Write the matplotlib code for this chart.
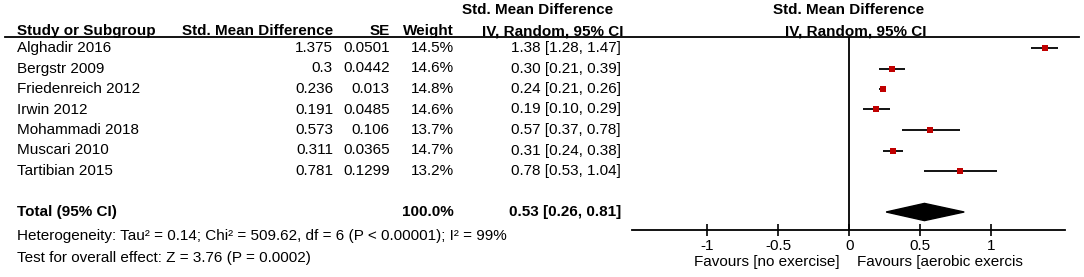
import numpy as np
import matplotlib
matplotlib.use("Agg")
import matplotlib.pyplot as plt
from matplotlib.patches import Polygon

plt.rcParams['font.family'] = ['Liberation Sans', 'DejaVu Sans']
plt.rcParams['font.size'] = 11

studies = ["Alghadir 2016", "Bergstr 2009", "Friedenreich 2012", "Irwin 2012",
           "Mohammadi 2018", "Muscari 2010", "Tartibian 2015"]
smd = [1.375, 0.3, 0.236, 0.191, 0.573, 0.311, 0.781]
se = [0.0501, 0.0442, 0.013, 0.0485, 0.106, 0.0365, 0.1299]
weight = [14.5, 14.6, 14.8, 14.6, 13.7, 14.7, 13.2]
est = [1.38, 0.30, 0.24, 0.19, 0.57, 0.31, 0.78]
lo = [1.28, 0.21, 0.21, 0.10, 0.37, 0.24, 0.53]
hi = [1.47, 0.39, 0.26, 0.29, 0.78, 0.38, 1.04]
total_est, total_lo, total_hi = 0.53, 0.26, 0.81
ticks = [-1, -0.5, 0, 0.5, 1]
tick_labels = ["-1", "-0.5", "0", "0.5", "1"]

W, H = 1084, 277
fig = plt.figure(figsize=(W / 100, H / 100), dpi=100)

# table text in pixel coordinates
ax_t = fig.add_axes([0, 0, 1, 1])
ax_t.set_xlim(0, W)
ax_t.set_ylim(H, 0)
ax_t.axis('off')

def row_y(r):
    return 48 + 20.5 * r

bold = dict(fontweight='bold')
ax_t.text(17, 31, "Study or Subgroup", va='center', ha='left', **bold)
ax_t.text(333, 31, "Std. Mean Difference", va='center', ha='right', **bold)
ax_t.text(390, 31, "SE", va='center', ha='right', **bold)
ax_t.text(454, 31, "Weight", va='center', ha='right', **bold)
ax_t.text(538, 10, "Std. Mean Difference", va='center', ha='center', **bold)
ax_t.text(553, 31, "IV, Random, 95% CI", va='center', ha='center', **bold)
ax_t.text(849, 10, "Std. Mean Difference", va='center', ha='center', **bold)
ax_t.text(856, 31, "IV, Random, 95% CI", va='center', ha='center', **bold)
ax_t.plot([5, 1079], [36.5, 36.5], color='black', lw=1.3)

for i, name in enumerate(studies):
    y = row_y(i)
    ax_t.text(17, y, name, va='center', ha='left')
    ax_t.text(333, y, str(smd[i]), va='center', ha='right')
    ax_t.text(390, y, str(se[i]), va='center', ha='right')
    ax_t.text(454, y, "%.1f%%" % weight[i], va='center', ha='right')
    ax_t.text(621, y, "%.2f [%.2f, %.2f]" % (est[i], lo[i], hi[i]), va='center', ha='right')

yt = row_y(8)
ax_t.text(17, yt, "Total (95% CI)", va='center', ha='left', **bold)
ax_t.text(454, yt, "%.1f%%" % sum([100.0]), va='center', ha='right', **bold)
ax_t.text(621, yt, "%.2f [%.2f, %.2f]" % (total_est, total_lo, total_hi),
          va='center', ha='right', **bold)
ax_t.text(17, 236, "Heterogeneity: Tau² = 0.14; Chi² = 509.62, df = 6 (P < 0.00001); I² = 99%",
          va='center', ha='left')
ax_t.text(17, 258, "Test for overall effect: Z = 3.76 (P = 0.0002)", va='center', ha='left')
ax_t.text(840, 262, "Favours [no exercise]", va='center', ha='right')
ax_t.text(857, 262, "Favours [aerobic exercis", va='center', ha='left')

# forest plot
x0, x1, ytop, ybot = 632, 1065, 36.5, 230
ax = fig.add_axes([x0 / W, (H - ybot) / H, (x1 - x0) / W, (ybot - ytop) / H])
ax.patch.set_alpha(0)
ax.set_xlim(-1.53, 1.52)
ax.set_ylim((ybot - 48) / 20.5, (ytop - 48) / 20.5)
for s in ['top', 'right', 'left']:
    ax.spines[s].set_visible(False)
ax.spines['bottom'].set_linewidth(1.3)
ax.set_yticks([])
ax.set_xticks(ticks)
ax.set_xticklabels(tick_labels)
ax.tick_params(axis='x', direction='inout', length=9, width=1.2, pad=2, labelsize=11)
ax.axvline(0, color='black', lw=1.3)

rows = np.arange(len(studies))
ax.hlines(rows, lo, hi, color='black', lw=1.3)
for i in rows:
    ax.plot(est[i], i, marker='s', color='#c00000', markersize=4.6 * np.sqrt(weight[i] / 14.5),
            markeredgewidth=0, linestyle='none')

dh = 0.42
diamond = Polygon([[total_lo, 8], [total_est, 8 - dh], [total_hi, 8], [total_est, 8 + dh]],
                  closed=True, color='black')
ax.add_patch(diamond)

fig.savefig("out.png", dpi=100)
